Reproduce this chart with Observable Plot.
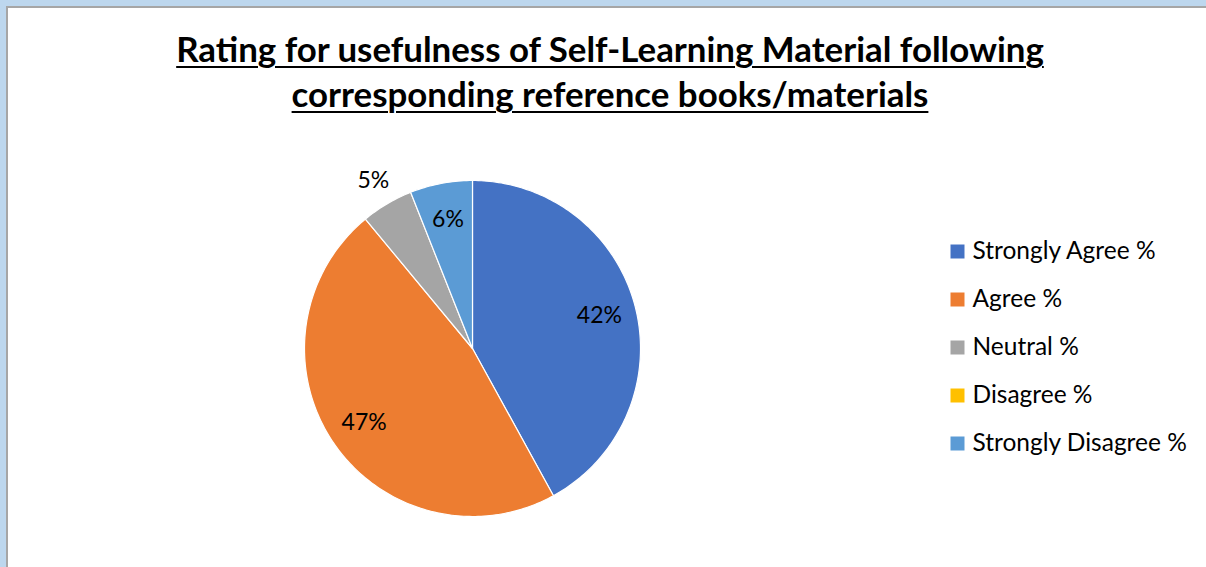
<!DOCTYPE html>
<html><head><meta charset="utf-8">
<script src="https://cdn.jsdelivr.net/npm/d3@7"></script>
<script src="https://cdn.jsdelivr.net/npm/@observablehq/plot@0.6"></script>
<style>
html,body{margin:0;padding:0;background:#fff}
#frame{position:relative;width:1206px;height:567px;background:#BDD7EE;overflow:hidden;font-family:Lato,"Open Sans",sans-serif}
#inner{position:absolute;left:6px;top:6px;right:0;bottom:0;background:#fff;border-left:2px solid #A6A6A6;border-top:2px solid #A6A6A6}
.tl{position:absolute;left:0;width:1220px;text-align:center;font-weight:bold;color:#000;white-space:nowrap;line-height:1}
.tl span{text-decoration:underline;text-decoration-thickness:2px;text-underline-offset:4px}
#pie,#legend{position:absolute;top:0}
#pie{left:0}
#legend{left:940px}
</style></head><body>
<div id="frame"><div id="inner"></div>
<div class="tl" id="t1"><span>Rating for usefulness of Self-Learning Material following</span></div>
<div class="tl" id="t2"><span>corresponding reference books/materials</span></div>
<div id="pie"></div><div id="legend"></div></div>
<script>
const categories = ["Strongly Agree %","Agree %","Neutral %","Disagree %","Strongly Disagree %"];
const values = [42,47,5,0,6];
const labels = ["42%","47%","5%","0%","6%"];
const colors = ["#4472C4","#ED7D31","#A5A5A5","#FFC000","#5B9BD5"];

// layout constants
const W = 1206, H = 567, CX = 472, CY = 348, R = 168;

const total = d3.sum(values);
let acc = 0;
const pts = [], lab = [];
categories.forEach((c, i) => {
  const a0 = acc / total * 2 * Math.PI; acc += values[i]; const a1 = acc / total * 2 * Math.PI;
  if (values[i] <= 0) return;
  pts.push({cat: c, x: 0, y: 0});
  const n = Math.max(2, Math.ceil((a1 - a0) / (Math.PI / 180)));
  for (let k = 0; k <= n; k++) { const a = a0 + (a1 - a0) * k / n; pts.push({cat: c, x: Math.sin(a), y: Math.cos(a)}); }
  pts.push({cat: c, x: 0, y: 0});
  const m = (a0 + a1) / 2; const r = values[i] < 6 ? 1.16 : 0.78;
  lab.push({text: labels[i], x: r * Math.sin(m), y: r * Math.cos(m)});
});

const color = {domain: categories, range: colors};
const pie = Plot.plot({
  width: W, height: H, margin: 0,
  x: {domain: [-CX / R, (W - CX) / R], axis: null},
  y: {domain: [-(H - CY) / R, CY / R], axis: null},
  color,
  style: {background: "transparent", fontFamily: "Lato, 'Open Sans', sans-serif"},
  marks: [
    Plot.line(pts, {x: "x", y: "y", z: "cat", fill: "cat", stroke: "white", strokeWidth: 1.2, curve: "linear"}),
    Plot.text(lab, {x: "x", y: "y", text: "text", fontSize: 23, fill: "#000"})
  ]
});
document.getElementById("pie").appendChild(pie);

const legend = Plot.plot({
  width: 266, height: H, margin: 0,
  y: {type: "point", domain: categories, range: [251, 443], padding: 0, axis: null},
  color,
  style: {background: "transparent", fontFamily: "Lato, 'Open Sans', sans-serif"},
  marks: [
    Plot.dot(categories, {y: d => d, frameAnchor: "left", dx: 17, symbol: "square", r: 7.9, fill: d => d, stroke: null}),
    Plot.text(categories, {y: d => d, frameAnchor: "left", dx: 32, textAnchor: "start", text: d => d, fontSize: 24.5, fill: "#000"})
  ]
});
document.getElementById("legend").appendChild(legend);

function fitTitle() {
  const t1 = document.getElementById("t1"), t2 = document.getElementById("t2");
  let F = 30;
  t1.style.fontSize = F + "px";
  const w = t1.querySelector("span").getBoundingClientRect().width;
  F = F * 868 / w;
  t1.style.fontSize = F + "px"; t2.style.fontSize = F + "px";
  t1.style.top = (63 - 0.887 * F) + "px";
  t2.style.top = (108 - 0.887 * F) + "px";
}
fitTitle();
if (document.fonts) document.fonts.ready.then(fitTitle);
</script>
</body></html>
